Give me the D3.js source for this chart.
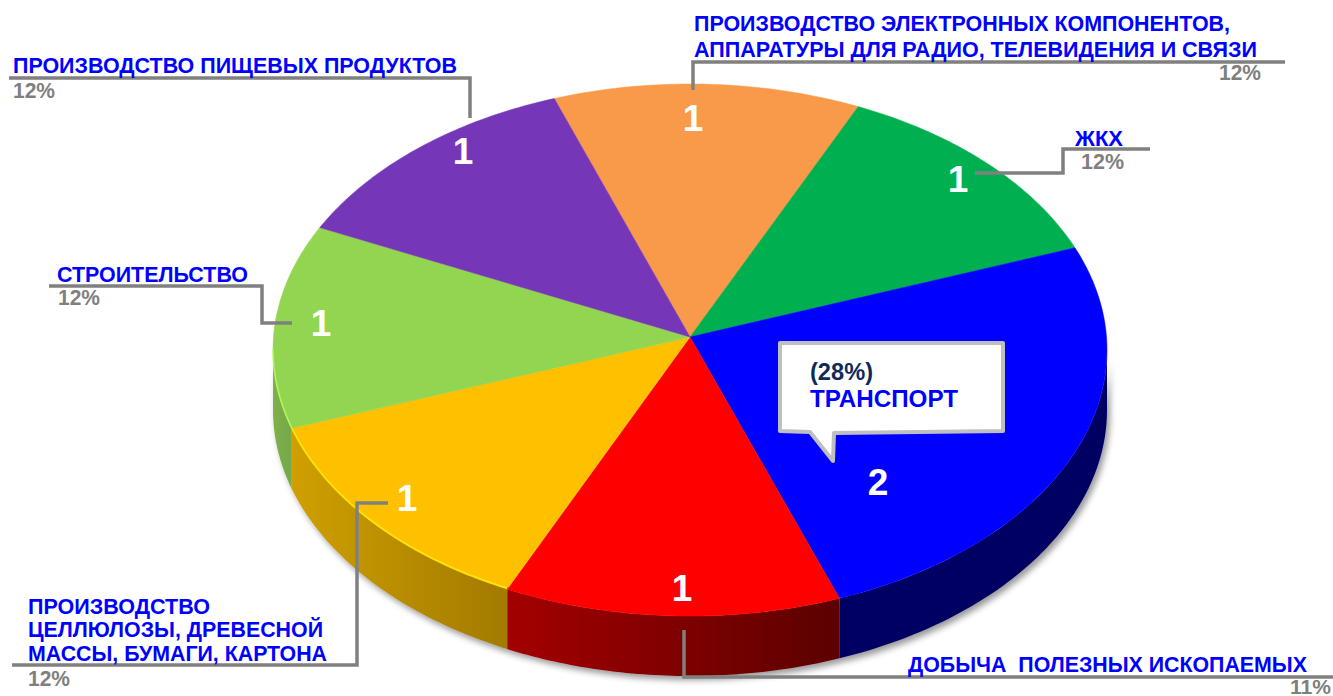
<!DOCTYPE html>
<html><head><meta charset="utf-8">
<script src="https://cdn.jsdelivr.net/npm/d3@7/dist/d3.min.js"></script>
<style>html,body{margin:0;padding:0;background:#fff;overflow:hidden}svg{display:block}
text{font-family:"Liberation Sans",Arial,sans-serif;font-weight:700}</style>
</head><body><svg id="c" width="1333" height="696"></svg>
<script>
// ---- data ----
const categories = ["ПРОИЗВОДСТВО ЭЛЕКТРОННЫХ КОМПОНЕНТОВ, АППАРАТУРЫ ДЛЯ РАДИО, ТЕЛЕВИДЕНИЯ И СВЯЗИ","ЖКХ","ТРАНСПОРТ","ДОБЫЧА ПОЛЕЗНЫХ ИСКОПАЕМЫХ","ПРОИЗВОДСТВО ЦЕЛЛЮЛОЗЫ, ДРЕВЕСНОЙ МАССЫ, БУМАГИ, КАРТОНА","СТРОИТЕЛЬСТВО","ПРОИЗВОДСТВО ПИЩЕВЫХ ПРОДУКТОВ"];
const values = [1,1,2,1,1,1,1];
const topColors = ["#f9994a","#00b050","#0000ff","#ff0000","#ffc000","#92d550","#7636b8"];
const sideStart = ["#c07a3a","#008a40","#000064","#5c0000","#a27a00","#74a848","#5c2a90"];
const sideEnd   = ["#c07a3a","#008a40","#000064","#a40000","#d0a000","#7fb04c","#5c2a90"];

// ---- layout ----
const cx=690, cy=350, rx=417, ry=266, depth=60, apex=[690,337];
const startDeg=-19;
const svg=d3.select("#c");
const defs=svg.append("defs");
// pie angle (deg) -> ellipse parameter: the picture's 3D perspective bends the slice borders
const warp=d3.scaleLinear()
  .domain([-19,26,71,161,206,251,296,341])
  .range([-19,23.8,67.4,159,206,252.9,297.4,341]);
const rad=Math.PI/180;
const pie=d3.pie().sort(null).value(d=>d).startAngle(startDeg*rad).endAngle((startDeg+360)*rad);
const arcs=pie(values).map(d=>Object.assign({},d,{startAngle:warp(d.startAngle/rad)*rad,endAngle:warp(d.endAngle/rad)*rad}));
const ex=a=>cx+rx*Math.sin(a), ey=a=>cy-ry*Math.cos(a);
const samples=(a0,a1)=>d3.range(0,61).map(i=>a0+(a1-a0)*i/60);

const f=defs.append("filter").attr("id","sh").attr("x","-5%").attr("y","-5%").attr("width","110%").attr("height","110%");
f.append("feDropShadow").attr("dx",3).attr("dy",4).attr("stdDeviation",3).attr("flood-color","#000").attr("flood-opacity",.4);

const line=d3.line();
// side wall, only the part of each slice that faces the viewer
const sideG=svg.append("g").attr("filter","url(#sh)");
arcs.forEach((d,i)=>{
  const a0=Math.max(d.startAngle,Math.PI/2), a1=Math.min(d.endAngle,Math.PI*1.5);
  if(a1<=a0) return;
  const id="sg"+i;
  const g=defs.append("linearGradient").attr("id",id).attr("gradientUnits","userSpaceOnUse")
    .attr("x1",ex(a0)).attr("x2",ex(a1)).attr("y1",0).attr("y2",0);
  g.append("stop").attr("offset",0).attr("stop-color",sideStart[i]);
  g.append("stop").attr("offset",1).attr("stop-color",sideEnd[i]);
  const s=samples(a0,a1);
  const pts=s.map(a=>[ex(a),ey(a)]).concat(s.slice().reverse().map(a=>[ex(a),ey(a)+depth]));
  sideG.append("path").attr("d",line(pts)+"Z").attr("fill",`url(#${id})`);
});
// top surface
arcs.forEach((d,i)=>{
  const pts=[apex].concat(samples(d.startAngle,d.endAngle).map(a=>[ex(a),ey(a)]));
  svg.append("path").attr("d",line(pts)+"Z").attr("fill",topColors[i]).attr("stroke",topColors[i]).attr("stroke-width",.5);
});
// lit rim on the front edge
arcs.forEach((d,i)=>{
  const a0=Math.max(d.startAngle,Math.PI/2), a1=Math.min(d.endAngle,Math.PI*1.5);
  if(a1<=a0) return;
  const c=d3.color(topColors[i]).brighter(.6);
  svg.append("path").attr("d",line(samples(a0,a1).map(a=>[ex(a),ey(a)-1]))).attr("fill","none")
    .attr("stroke",c.formatHex()).attr("stroke-width",1.6).attr("opacity",i===2?0:.8);
});

// ---- leader lines ----
const leaders=[
 [[9,78],[470,78],[470,118]],
 [[1285,62],[693,62],[693,90]],
 [[1150,149],[1063,149],[1063,173],[975,173]],
 [[49,286],[262,286],[262,323],[292,323]],
 [[12,665],[357,665],[357,503],[388,503]],
 [[684,630],[684,677],[1333,677]]
];
svg.selectAll("path.lead").data(leaders).join("path").attr("class","lead").attr("d",d=>line(d))
  .attr("fill","none").attr("stroke","#808080").attr("stroke-width",3.5).attr("stroke-linejoin","miter");

// ---- callout ----
const callout=[[780,343],[1003,343],[1003,431],[834,433],[833,461],[810,432],[780,431]];
svg.append("path").attr("d",line(callout)+"Z").attr("fill","#fff").attr("stroke","#bfbfbf").attr("stroke-width",4).attr("stroke-linejoin","round");

// ---- texts ----
const texts=[
 ["ПРОИЗВОДСТВО ПИЩЕВЫХ ПРОДУКТОВ",13,73,444,"#0000ff",22],
 ["12%",13,98,42,"#7f7f7f",22],
 ["ПРОИЗВОДСТВО ЭЛЕКТРОННЫХ КОМПОНЕНТОВ,",694,31,536,"#0000ff",22],
 ["АППАРАТУРЫ ДЛЯ РАДИО, ТЕЛЕВИДЕНИЯ И СВЯЗИ",694,57,563,"#0000ff",22],
 ["12%",1219,80,42,"#7f7f7f",22],
 ["ЖКХ",1075,146,48,"#0000ff",22],
 ["12%",1081,169,43,"#7f7f7f",22],
 ["СТРОИТЕЛЬСТВО",57,282,191,"#0000ff",22],
 ["12%",58,305,42,"#7f7f7f",22],
 ["ПРОИЗВОДСТВО",28,614,182,"#0000ff",22],
 ["ЦЕЛЛЮЛОЗЫ, ДРЕВЕСНОЙ",28,637,295,"#0000ff",22],
 ["МАССЫ, БУМАГИ, КАРТОНА",28,661,299,"#0000ff",22],
 ["12%",28,686,42,"#7f7f7f",22],
 ["ДОБЫЧА  ПОЛЕЗНЫХ ИСКОПАЕМЫХ",908,672,399,"#0000ff",22],
 ["11%",1290,694,41,"#7f7f7f",21],
 ["(28%)",810,380,63,"#0f2a5a",23],
 ["ТРАНСПОРТ",810,407,148,"#0000ff",23]
];
svg.selectAll("text.lab").data(texts).join("text").attr("class","lab")
  .attr("xml:space","preserve").style("white-space","pre")
  .attr("x",d=>d[1]).attr("y",d=>d[2]).attr("textLength",d=>d[3]).attr("lengthAdjust","spacingAndGlyphs")
  .attr("font-size",d=>d[5]).attr("fill",d=>d[4]).text(d=>d[0]);

// ---- value labels, one per slice in pie order ----
const labelPos=[[693,131],[958,192],[878,495],[682,601],[407,511],[321,336],[463,164]];
svg.selectAll("text.val").data(arcs).join("text").attr("class","val")
  .attr("x",(d,i)=>labelPos[i][0]).attr("y",(d,i)=>labelPos[i][1]).attr("text-anchor","middle")
  .attr("font-size",37).attr("fill","#fff").text(d=>d.data);
</script></body></html>
